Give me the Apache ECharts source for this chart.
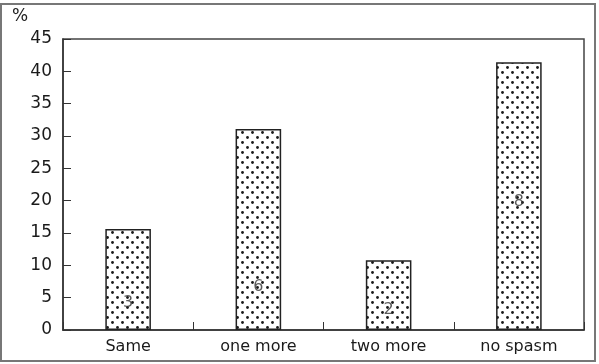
<!DOCTYPE html>
<html>
<head>
<meta charset="utf-8">
<script src="https://cdn.jsdelivr.net/npm/echarts@6/dist/echarts.min.js"></script>
<style>
  html, body { margin: 0; padding: 0; background: #fff; }
  #chart { width: 599px; height: 364px; }
</style>
</head>
<body>
<div id="chart"></div>
<script>
const categories = ['Same', 'one more', 'two more', 'no spasm']
const percents = [15.6, 31.1, 10.8, 41.4]
const counts = ['3', '6', '2', '8']
// where the count numbers sit inside each bar (in % units)
const countPos = [4.2, 6.6, 3.1, 19.8]

// dotted fill like the printed figure
const makeDots = () => {
  const c = document.createElement('canvas')
  c.width = 10
  c.height = 10
  const ctx = c.getContext('2d')
  ctx.fillStyle = '#fff'
  ctx.fillRect(0, 0, 10, 10)
  ctx.fillStyle = '#1a1a1a'
  const pts = [[2.5, 2.5], [7.5, 7.5]]
  pts.forEach(p => {
    ctx.beginPath()
    ctx.arc(p[0], p[1], 1.4, 0, Math.PI * 2)
    ctx.fill()
  })
  return c
}

const myChart = echarts.init(document.getElementById('chart'))
const font = '"DejaVu Sans", sans-serif'

const options = {
  animation: false,
  textStyle: { fontFamily: font },
  graphic: [
    {
      type: 'rect',
      shape: { x: 1, y: 4, width: 594, height: 357 },
      style: { fill: 'none', stroke: '#777', lineWidth: 2 }
    },
    {
      type: 'text',
      left: 12,
      top: 8,
      style: { text: '%', font: '17px ' + font, fill: '#222' }
    }
  ],
  grid: {
    left: 63,
    top: 39,
    right: 15,
    bottom: 34,
    show: true,
    borderColor: '#444',
    borderWidth: 1.5
  },
  xAxis: {
    type: 'category',
    data: categories,
    axisLine: { lineStyle: { color: '#333', width: 1.5 } },
    axisTick: { show: true, inside: true, length: 8, lineStyle: { color: '#333' } },
    axisLabel: { color: '#1a1a1a', fontSize: 16, margin: 9 }
  },
  yAxis: {
    type: 'value',
    min: 0,
    max: 45,
    interval: 5,
    axisLine: { show: true, lineStyle: { color: '#333', width: 1.5 } },
    axisTick: { show: true, inside: true, length: 8, lineStyle: { color: '#333' } },
    axisLabel: { color: '#1a1a1a', fontSize: 17, margin: 11 },
    splitLine: { show: false }
  },
  series: [
    {
      type: 'bar',
      data: percents,
      barWidth: '35%',
      itemStyle: {
        color: { image: makeDots(), repeat: 'repeat' },
        borderColor: '#222',
        borderWidth: 1.5
      }
    },
    {
      type: 'scatter',
      data: countPos,
      symbolSize: 0,
      silent: true,
      label: {
        show: true,
        position: 'inside',
        formatter: p => counts[p.dataIndex],
        fontSize: 16,
        color: '#333'
      }
    }
  ]
}
myChart.setOption(options)
</script>
</body>
</html>
